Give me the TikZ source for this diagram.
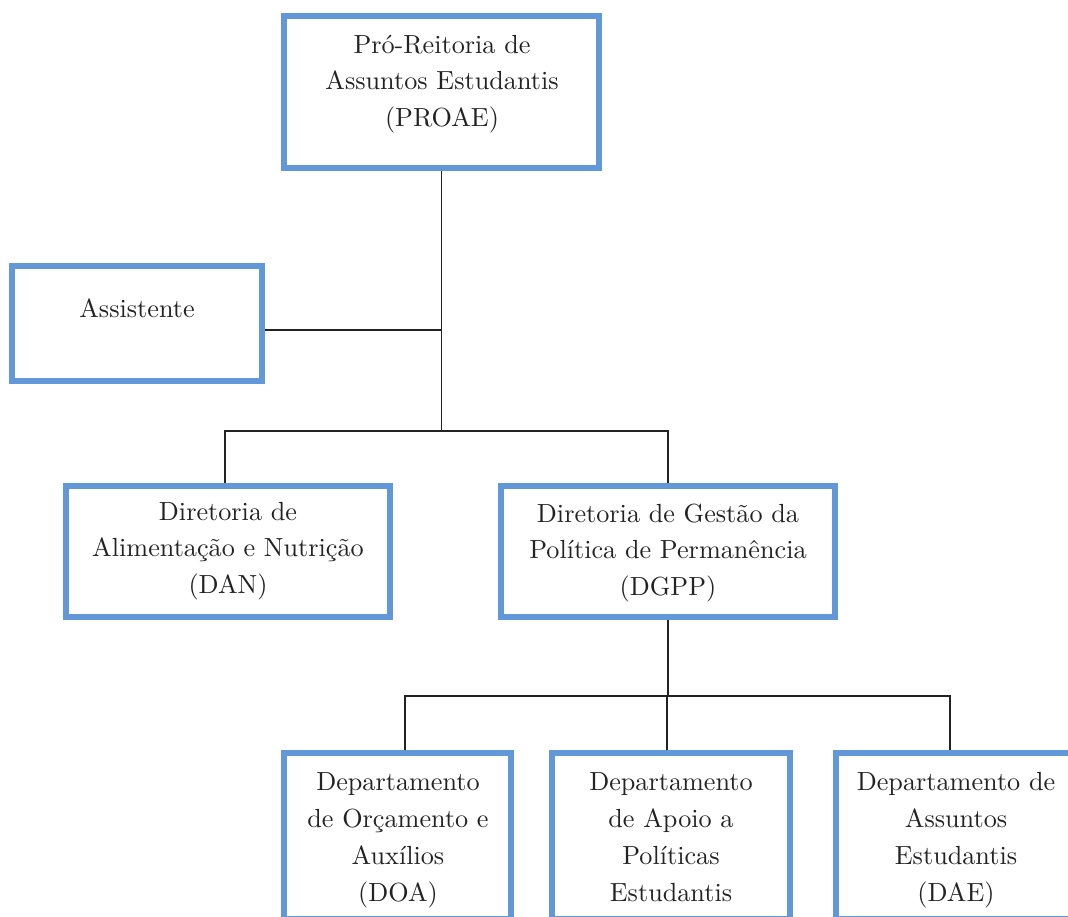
\documentclass[tikz,border=0pt]{standalone}
\usepackage{fontspec}
\newfontfamily\orgfont{lmroman10-regular.otf}
\definecolor{boxblue}{RGB}{98,152,216}
\definecolor{inkgray}{RGB}{35,35,35}
\tikzset{
  orgbox/.style={draw=boxblue, line width=6pt, rectangle, inner sep=0pt, fill=white},
  orgtext/.style={anchor=north, align=center, inner sep=0pt, text=inkgray,
    font=\orgfont\fontsize{26.2}{36.5}\selectfont},
  orgtextb/.style={anchor=north, align=center, inner sep=0pt, text=inkgray,
    font=\orgfont\fontsize{26.2}{37.2}\selectfont},
  conn/.style={draw=inkgray, line width=1.6pt}
}
\begin{document}
\begin{tikzpicture}[x=1pt,y=-1pt]
\useasboundingbox (0,0) rectangle (1068,917);
\fill[white] (0,0) rectangle (1068,917);
\clip (0,0) rectangle (1068,917);

% boxes
\node[orgbox, minimum width=315pt, minimum height=152pt] (proae) at (441.5,92) {};
\node[orgbox, minimum width=250pt, minimum height=115pt] (asst) at (137,323.5) {};
\node[orgbox, minimum width=324.5pt, minimum height=131pt] (dan) at (227.75,551.5) {};
\node[orgbox, minimum width=334pt, minimum height=131pt] (dgpp) at (668,551.5) {};
\node[orgbox, minimum width=227pt, minimum height=166pt] (doa) at (397.5,836) {};
\node[orgbox, minimum width=238pt, minimum height=166pt] (dape) at (671,836) {};
\node[orgbox, minimum width=236pt, minimum height=166pt] (dae) at (954,836) {};

% texts
\node[orgtext] (tproae) at (442,27.5) {\strut Pró-Reitoria de\\Assuntos Estudantis\\(PROAE)};
\node[orgtext] (tasst) at (137,291.5) {\strut Assistente};
\node[orgtext] (tdan) at (228,494.5) {\strut Diretoria de\\Alimentação e Nutrição\\(DAN)};
\node[orgtext] (tdgpp) at (668,496.5) {\strut Diretoria de Gestão da\\Política de Permanência\\(DGPP)};
\node[orgtextb] (tdoa) at (398,764) {\strut Departamento\\de Orçamento e\\Auxílios\\(DOA)};
\node[orgtextb] (tdape) at (671,764) {\strut Departamento\\de Apoio a\\Políticas\\Estudantis};
\node[orgtextb] (tdae) at (956,764) {\strut Departamento de\\Assuntos\\Estudantis\\(DAE)};

% junctions
\coordinate (j1) at (442,431);
\coordinate (j2) at (668,696);

% connectors
\draw[conn] (proae.south) -- (proae.south |- j1);
\draw[conn] ([yshift=-6.5pt]asst.east) -- ([yshift=-6.5pt]asst.east -| proae.south);
\draw[conn] ([xshift=-3pt]dan.north) |- (j1) -| (dgpp.north);
\draw[conn] (dgpp.south) -- (dgpp.south |- j2);
\draw[conn] ([xshift=7.5pt]doa.north) |- (j2) -| ([xshift=-4pt]dae.north);
\draw[conn] ([xshift=-4pt]dape.north) -- ([xshift=-4pt]dape.north |- j2);
\end{tikzpicture}
\end{document}
